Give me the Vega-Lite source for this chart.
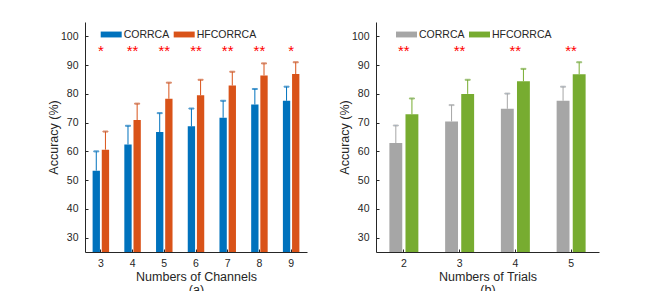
{
  "$schema": "https://vega.github.io/schema/vega-lite/v6.json",
  "background": "white",
  "padding": {"left": 47, "top": 22, "right": 5, "bottom": 0},
  "spacing": 31,
  "config": {
    "font": "Liberation Sans",
    "view": {"stroke": null},
    "axis": {
      "grid": false,
      "domainColor": "#262626",
      "domainWidth": 1,
      "tickColor": "#262626",
      "tickSize": -3,
      "labelColor": "#262626",
      "labelFontSize": 10.5,
      "labelOverlap": false,
      "titleColor": "#262626",
      "titleFontSize": 12.5,
      "titleFontWeight": "normal",
      "titleLineHeight": 12.5
    },
    "axisY": {"values": [30, 40, 50, 60, 70, 80, 90, 100], "labelOverlap": false, "labelPadding": 10, "titlePadding": 0, "title": "Accuracy (%)"},
    "axisX": {"labelAngle": 0, "labelPadding": 9, "titlePadding": 2},
    "legend": {
      "orient": "none",
      "direction": "horizontal",
      "symbolType": "M-1,-0.28H1V0.28H-1Z",
      "symbolSize": 441,
      "symbolStrokeWidth": 0,
      "labelFontSize": 10.5,
      "labelColor": "#262626",
      "labelOffset": 2,
      "columnPadding": 4,
      "padding": 0
    }
  },
  "resolve": {
    "scale": {"color": "independent", "stroke": "independent", "x": "independent", "y": "independent", "xOffset": "independent"},
    "legend": {"color": "independent"}
  },
  "hconcat": [
    {
      "width": 222,
      "height": 230,
      "layer": [
        {
          "data": {"name": "a"},
          "mark": {"type": "bar", "clip": true},
          "encoding": {
            "x": {"field": "channels", "type": "ordinal", "scale": {"paddingInner": 0.48, "paddingOuter": 0.24}, "axis": {"title": ["Numbers of Channels", "(a)"]}},
            "xOffset": {"field": "method", "type": "nominal", "scale": {"paddingInner": 0.2}},
            "y": {"field": "acc", "type": "quantitative", "scale": {"domain": [25, 105], "nice": false, "zero": false}, "axis": {"values": [30, 40, 50, 60, 70, 80, 90, 100], "labelOverlap": false, "title": "Accuracy (%)"}},
            "color": {"field": "method", "type": "nominal", "scale": {"domain": ["CORRCA", "HFCORRCA"], "range": ["#0072BD", "#D95319"]}, "legend": {"title": null, "legendX": 15.7, "legendY": 2}}
          }
        },
        {
          "data": {"name": "a"},
          "mark": {"type": "rule", "strokeWidth": 1},
          "encoding": {
            "x": {"field": "channels", "type": "ordinal", "axis": {"title": ["Numbers of Channels", "(a)"]}},
            "xOffset": {"field": "method", "type": "nominal"},
            "y": {"field": "acc", "type": "quantitative", "axis": {"values": [30, 40, 50, 60, 70, 80, 90, 100], "labelOverlap": false, "title": "Accuracy (%)"}},
            "y2": {"field": "err"},
            "stroke": {"field": "method", "type": "nominal", "scale": {"domain": ["CORRCA", "HFCORRCA"], "range": ["#0072BD", "#D95319"]}, "legend": null}
          }
        },
        {
          "data": {"name": "a"},
          "mark": {"type": "tick", "size": 5, "thickness": 1},
          "encoding": {
            "x": {"field": "channels", "type": "ordinal", "axis": {"title": ["Numbers of Channels", "(a)"]}},
            "xOffset": {"field": "method", "type": "nominal"},
            "y": {"field": "err", "type": "quantitative", "axis": {"values": [30, 40, 50, 60, 70, 80, 90, 100], "labelOverlap": false, "title": "Accuracy (%)"}},
            "stroke": {"field": "method", "type": "nominal", "scale": {"domain": ["CORRCA", "HFCORRCA"], "range": ["#0072BD", "#D95319"]}, "legend": null}
          }
        },
        {
          "data": {"name": "starsA"},
          "mark": {"type": "text", "color": "#FF0000", "fontSize": 15, "baseline": "middle", "dy": 3},
          "encoding": {
            "x": {"field": "channels", "type": "ordinal", "axis": {"title": ["Numbers of Channels", "(a)"]}},
            "y": {"field": "level", "type": "quantitative", "axis": {"values": [30, 40, 50, 60, 70, 80, 90, 100], "labelOverlap": false, "title": "Accuracy (%)"}},
            "text": {"field": "sig"}
          }
        }
      ]
    },
    {
      "width": 223,
      "height": 230,
      "layer": [
        {
          "data": {"name": "b"},
          "mark": {"type": "bar", "clip": true},
          "encoding": {
            "x": {"field": "trials", "type": "ordinal", "scale": {"paddingInner": 0.48, "paddingOuter": 0.24}, "axis": {"title": ["Numbers of Trials", "(b)"]}},
            "xOffset": {"field": "method", "type": "nominal", "scale": {"paddingInner": 0.2}},
            "y": {"field": "acc", "type": "quantitative", "scale": {"domain": [25, 105], "nice": false, "zero": false}, "axis": {"values": [30, 40, 50, 60, 70, 80, 90, 100], "labelOverlap": false, "title": "Accuracy (%)"}},
            "color": {"field": "method", "type": "nominal", "scale": {"domain": ["CORRCA", "HFCORRCA"], "range": ["#A6A6A6", "#77AC30"]}, "legend": {"title": null, "legendX": 20, "legendY": 2}}
          }
        },
        {
          "data": {"name": "b"},
          "mark": {"type": "rule", "strokeWidth": 1},
          "encoding": {
            "x": {"field": "trials", "type": "ordinal", "axis": {"title": ["Numbers of Trials", "(b)"]}},
            "xOffset": {"field": "method", "type": "nominal"},
            "y": {"field": "acc", "type": "quantitative", "axis": {"values": [30, 40, 50, 60, 70, 80, 90, 100], "labelOverlap": false, "title": "Accuracy (%)"}},
            "y2": {"field": "err"},
            "stroke": {"field": "method", "type": "nominal", "scale": {"domain": ["CORRCA", "HFCORRCA"], "range": ["#A6A6A6", "#77AC30"]}, "legend": null}
          }
        },
        {
          "data": {"name": "b"},
          "mark": {"type": "tick", "size": 5, "thickness": 1},
          "encoding": {
            "x": {"field": "trials", "type": "ordinal", "axis": {"title": ["Numbers of Trials", "(b)"]}},
            "xOffset": {"field": "method", "type": "nominal"},
            "y": {"field": "err", "type": "quantitative", "axis": {"values": [30, 40, 50, 60, 70, 80, 90, 100], "labelOverlap": false, "title": "Accuracy (%)"}},
            "stroke": {"field": "method", "type": "nominal", "scale": {"domain": ["CORRCA", "HFCORRCA"], "range": ["#A6A6A6", "#77AC30"]}, "legend": null}
          }
        },
        {
          "data": {"name": "starsB"},
          "mark": {"type": "text", "color": "#FF0000", "fontSize": 15, "baseline": "middle", "dy": 3},
          "encoding": {
            "x": {"field": "trials", "type": "ordinal", "axis": {"title": ["Numbers of Trials", "(b)"]}},
            "y": {"field": "level", "type": "quantitative", "axis": {"values": [30, 40, 50, 60, 70, 80, 90, 100], "labelOverlap": false, "title": "Accuracy (%)"}},
            "text": {"field": "sig"}
          }
        }
      ]
    }
  ],
  "datasets": {
    "a": [
      {"channels": 3, "method": "CORRCA", "acc": 53.3, "err": 60.0},
      {"channels": 4, "method": "CORRCA", "acc": 62.4, "err": 68.9},
      {"channels": 5, "method": "CORRCA", "acc": 66.7, "err": 73.3},
      {"channels": 6, "method": "CORRCA", "acc": 68.7, "err": 74.9},
      {"channels": 7, "method": "CORRCA", "acc": 71.7, "err": 77.6},
      {"channels": 8, "method": "CORRCA", "acc": 76.3, "err": 81.7},
      {"channels": 9, "method": "CORRCA", "acc": 77.6, "err": 82.5},
      {"channels": 3, "method": "HFCORRCA", "acc": 60.6, "err": 66.9},
      {"channels": 4, "method": "HFCORRCA", "acc": 70.9, "err": 76.6},
      {"channels": 5, "method": "HFCORRCA", "acc": 78.3, "err": 83.9},
      {"channels": 6, "method": "HFCORRCA", "acc": 79.5, "err": 84.9},
      {"channels": 7, "method": "HFCORRCA", "acc": 82.9, "err": 87.7},
      {"channels": 8, "method": "HFCORRCA", "acc": 86.4, "err": 90.6},
      {"channels": 9, "method": "HFCORRCA", "acc": 86.9, "err": 91.0}
    ],
    "b": [
      {"trials": 2, "method": "CORRCA", "acc": 62.9, "err": 69.0},
      {"trials": 3, "method": "CORRCA", "acc": 70.4, "err": 76.1},
      {"trials": 4, "method": "CORRCA", "acc": 74.8, "err": 80.1},
      {"trials": 5, "method": "CORRCA", "acc": 77.6, "err": 82.5},
      {"trials": 2, "method": "HFCORRCA", "acc": 72.9, "err": 78.4},
      {"trials": 3, "method": "HFCORRCA", "acc": 80.0, "err": 84.9},
      {"trials": 4, "method": "HFCORRCA", "acc": 84.4, "err": 88.7},
      {"trials": 5, "method": "HFCORRCA", "acc": 86.8, "err": 91.0}
    ],
    "starsA": [
      {"channels": 3, "sig": "*", "level": 96},
      {"channels": 4, "sig": "**", "level": 96},
      {"channels": 5, "sig": "**", "level": 96},
      {"channels": 6, "sig": "**", "level": 96},
      {"channels": 7, "sig": "**", "level": 96},
      {"channels": 8, "sig": "**", "level": 96},
      {"channels": 9, "sig": "*", "level": 96}
    ],
    "starsB": [
      {"trials": 2, "sig": "**", "level": 96},
      {"trials": 3, "sig": "**", "level": 96},
      {"trials": 4, "sig": "**", "level": 96},
      {"trials": 5, "sig": "**", "level": 96}
    ]
  }
}
